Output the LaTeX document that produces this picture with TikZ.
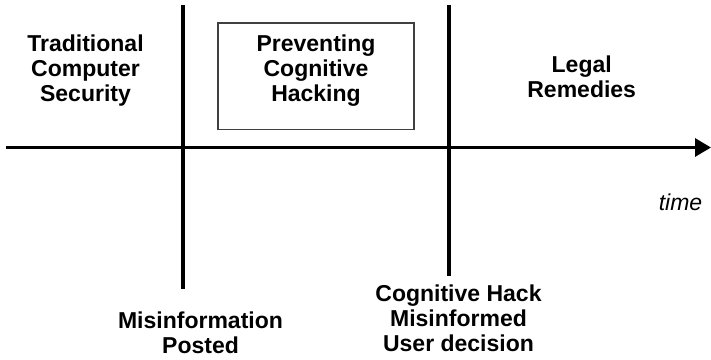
\documentclass[tikz,border=0pt]{standalone}
\usepackage{fontspec}
\setmainfont{Liberation Sans}
\usetikzlibrary{arrows.meta}
\begin{document}
\begin{tikzpicture}[x=0.75pt,y=-0.75pt,
  label/.style={align=center,inner sep=0pt,font=\fontsize{17.25}{18.6}\selectfont\bfseries},
  axisline/.style={line width=2.4pt,black},
  phase/.style={draw=black!75,line width=0.8pt}]
\useasboundingbox (0,0) rectangle (711,360);

% time axis
\coordinate (t0) at (6,147.5);
\coordinate (t1) at (711,147.5);
\draw[axisline,-{Triangle[length=12pt,width=13.5pt]}] (t0) -- (t1);

% event markers
\coordinate (m1top) at (183,5.5);
\coordinate (m1bot) at (183,289);
\coordinate (m2top) at (449,5.5);
\coordinate (m2bot) at (449,276);
\draw[axisline] (m1top) -- (m1bot);
\draw[axisline] (m2top) -- (m2bot);

% phases
\node[label] (trad) at (85.5,70.7) {Traditional\\Computer\\Security};
\draw[phase] (218,23) rectangle (414,129.5);
\node[label] (prev) at (316,70.7) {Preventing\\Cognitive\\Hacking};
\node[label] (legal) at (581.7,77.1) {Legal\\Remedies};

% events
\node[label] (misinfo) at (200.5,333.1) {Misinformation\\Posted};
\node[label] (hack) at (458.5,318.3) {Cognitive Hack\\Misinformed\\User decision};

\node[inner sep=0pt,anchor=base,font=\fontsize{17.25}{18.6}\selectfont\itshape] (time) at (680.5,210.7) {time};
\end{tikzpicture}
\end{document}
